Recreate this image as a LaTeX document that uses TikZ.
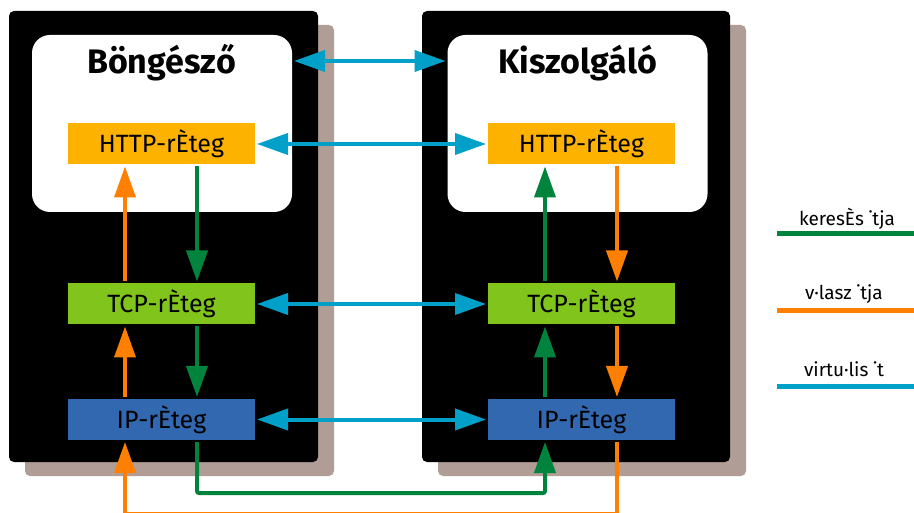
\documentclass[tikz,border=0pt]{standalone}
\usepackage{fontspec}
\setmainfont{Fira Sans}
\usetikzlibrary{arrows.meta,calc}

\definecolor{httpcol}{RGB}{253,178,0}
\definecolor{tcpcol}{RGB}{128,196,28}
\definecolor{ipcol}{RGB}{49,104,176}
\definecolor{shadowcol}{RGB}{176,158,150}
\definecolor{reqcol}{RGB}{0,132,61}
\definecolor{respcol}{RGB}{255,127,0}
\definecolor{virtcol}{RGB}{0,160,200}

\begin{document}
\begin{tikzpicture}[x=1pt,y=-1pt,>={Triangle[length=31pt,width=21pt]},
                    line width=4pt,node distance=420pt]
  \tikzstyle{layer}=[minimum width=187pt,minimum height=41pt,inner sep=0pt,
                     font=\fontsize{25}{30}\selectfont]
  \tikzstyle{app}=[fill=white,rounded corners=18pt,minimum width=260pt,
                   minimum height=177pt]
  \tikzstyle{title}=[anchor=base,font=\fontsize{34}{40}\selectfont\bfseries]
  \tikzstyle{legend}=[anchor=base,font=\fontsize{19}{23}\selectfont]
  \tikzstyle{request}=[->,draw=reqcol]
  \tikzstyle{response}=[->,draw=respcol]
  \tikzstyle{virtual}=[<->,draw=virtcol]

  \useasboundingbox (0,0) rectangle (914,513);

  % hosts
  \fill[shadowcol,rounded corners=5pt] (25,25) rectangle (334,476);
  \fill[shadowcol,rounded corners=5pt] (438,25) rectangle (746,476);
  \fill[black,rounded corners=5pt] (9,11) rectangle (318,462);
  \fill[black,rounded corners=5pt] (422,11) rectangle (730,462);

  \node[app] (bapp) at (162,123.5) {};
  \node[app] (sapp) at (577.5,123.5) {};
  \node[title] (btitle) at (161.5,74) {Böngésző};
  \node[title] (stitle) at (577.5,74) {Kiszolgáló};

  % layers
  \node[layer,fill=httpcol] (bhttp) at (161.5,144)   {HTTP-rÈteg};
  \node[layer,fill=tcpcol]  (btcp)  at (161.5,304)   {TCP-rÈteg};
  \node[layer,fill=ipcol]   (bip)   at (161.5,419.5) {IP-rÈteg};
  \node[layer,fill=httpcol] (shttp) [right of=bhttp] {HTTP-rÈteg};
  \node[layer,fill=tcpcol]  (stcp)  [right of=btcp]  {TCP-rÈteg};
  \node[layer,fill=ipcol]   (sip)   [right of=bip]   {IP-rÈteg};

  % virtual paths
  \draw[virtual] ($(bapp.north east)+(0,28)$) -- ($(sapp.north west)+(0,28)$);
  \foreach \l in {http,tcp,ip}
    \draw[virtual] (b\l.east) -- (s\l.west);

  % browser side
  \draw[response] ($(btcp.north)+(-36.5,0)$) -- ($(bhttp.south)+(-36.5,0)$);
  \draw[request]  ($(bhttp.south)+(35.5,0)$) -- ($(btcp.north)+(35.5,0)$);
  \draw[response] ($(bip.north)+(-36.5,0)$)  -- ($(btcp.south)+(-36.5,0)$);
  \draw[request]  ($(btcp.south)+(35.5,0)$)  -- ($(bip.north)+(35.5,0)$);

  % server side
  \draw[request]  ($(stcp.north)+(-36.5,0)$) -- ($(shttp.south)+(-36.5,0)$);
  \draw[response] ($(shttp.south)+(35.5,0)$) -- ($(stcp.north)+(35.5,0)$);
  \draw[request]  ($(sip.north)+(-36.5,0)$)  -- ($(stcp.south)+(-36.5,0)$);
  \draw[response] ($(stcp.south)+(35.5,0)$)  -- ($(sip.north)+(35.5,0)$);

  % wire
  \draw[request,rounded corners=2pt] ($(bip.south)+(35.5,0)$) -- ++(0,51)
        -| ($(sip.south)+(-36.5,0)$);
  \draw[response] ($(sip.south)+(35.5,0)$) -- ++(0,71.5)
        -| ($(bip.south)+(-36.5,0)$);

  % legend
  \node[legend] (lreq)  at (847,226) {keresÈs ˙tja};
  \node[legend] (lresp) at (844,300) {v·lasz ˙tja};
  \node[legend] (lvirt) at (844,377) {virtu·lis ˙t};
  \draw[reqcol,line width=5pt]  (777,234) -- (914,234);
  \draw[respcol,line width=5pt] (777,311) -- (914,311);
  \draw[virtcol,line width=5pt] (777,387) -- (914,387);
\end{tikzpicture}
\end{document}
